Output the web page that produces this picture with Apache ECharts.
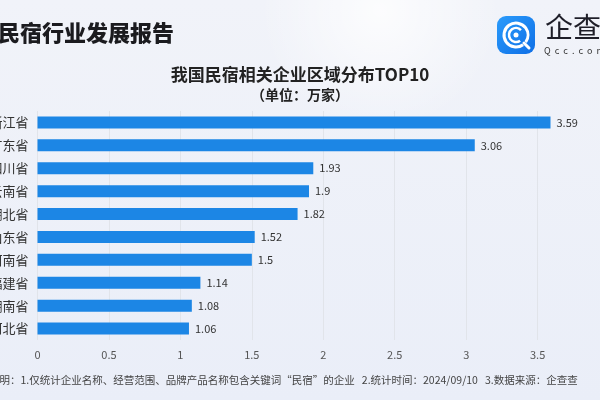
<!DOCTYPE html>
<html>
<head>
<meta charset="utf-8">
<script src="https://cdn.jsdelivr.net/npm/echarts@6/dist/echarts.min.js"></script>
<style>
html,body{margin:0;padding:0;background:#eef1f8;}
#main{width:600px;height:400px;}
</style>
</head>
<body>
<div id="main"></div>
<script>
const categories = ['浙江省','广东省','四川省','云南省','湖北省','山东省','河南省','福建省','湖南省','河北省'];
const values = [3.59, 3.06, 1.93, 1.9, 1.82, 1.52, 1.5, 1.14, 1.08, 1.06];
const headerText = '民宿行业发展报告';
const titleText = '我国民宿相关企业区域分布TOP10';
const unitText = '（单位：万家）';
const noteText = '说明：1.仅统计企业名称、经营范围、品牌产品名称包含关键词“民宿”的企业   2.统计时间：2024/09/10   3.数据来源：企查查';

const FONT = '"Noto Sans CJK SC", "Noto Sans", sans-serif';
const chart = echarts.init(document.getElementById('main'), null, {renderer: 'canvas'});

chart.setOption({
  animation: false,
  backgroundColor: {
    type: 'linear', x: 0, y: 0, x2: 0, y2: 1,
    colorStops: [{offset: 0, color: '#f1f3f9'}, {offset: 1, color: '#eaeef8'}]
  },
  textStyle: {fontFamily: FONT},
  grid: {left: 37.5, right: 49.5, top: 111, bottom: 60, containLabel: false, outerBoundsMode: 'none'},
  xAxis: {
    type: 'value',
    min: 0,
    max: 'dataMax',
    interval: 0.5,
    axisLine: {show: false},
    axisTick: {show: false},
    axisLabel: {color: '#555', fontSize: 11, margin: 9, showMaxLabel: false, fontFamily: FONT},
    splitLine: {show: true, showMaxLine: false, lineStyle: {color: '#e1e4ea', width: 1}}
  },
  yAxis: {
    type: 'category',
    data: categories,
    inverse: true,
    axisLine: {show: false},
    axisTick: {show: false},
    axisLabel: {color: '#333', fontSize: 13, margin: 9, fontFamily: FONT}
  },
  series: [{
    type: 'bar',
    data: values,
    barWidth: 12,
    itemStyle: {color: '#1c86e5'},
    label: {show: true, position: 'right', distance: 6, color: '#333', fontSize: 11, fontFamily: FONT}
  }],
  graphic: [
    {type: 'circle', silent: true, z: -10, shape: {cx: 380, cy: 10, r: 120},
     style: {fill: {type: 'radial', x: 0.5, y: 0.5, r: 0.5, colorStops: [{offset: 0, color: 'rgba(255,255,255,0.8)'}, {offset: 1, color: 'rgba(255,255,255,0)'}]}}},
    {type: 'text', left: -2, top: 22, style: {text: headerText, font: '900 22px ' + FONT, fill: '#1b1b1f'}},
    {type: 'text', left: 'center', top: 66, style: {text: titleText, font: 'bold 17px ' + FONT, fill: '#222'}},
    {type: 'text', left: 'center', top: 88, style: {text: unitText, font: 'bold 14px ' + FONT, fill: '#222'}},
    {type: 'text', left: -11, top: 375, style: {text: noteText, font: '10.5px ' + FONT, fill: '#444'}},
    // logo
    {type: 'group', left: 497, top: 16, children: [
      {type: 'rect', shape: {x: 0, y: 0, width: 38, height: 38, r: 9},
       style: {fill: {type: 'linear', x: 0, y: 0, x2: 1, y2: 1, colorStops: [{offset: 0, color: '#2a9bfb'}, {offset: 1, color: '#0f6fe6'}]}}},
      {type: 'arc', shape: {cx: 19, cy: 19, r: 12, startAngle: Math.PI * 0.3, endAngle: Math.PI * 2.2}, style: {stroke: '#fff', lineWidth: 3, fill: null}},
      {type: 'arc', shape: {cx: 19, cy: 19, r: 7, startAngle: Math.PI * 0.3, endAngle: Math.PI * 1.75}, style: {stroke: '#fff', lineWidth: 2.5, fill: null}},
      {type: 'circle', shape: {cx: 19, cy: 19, r: 2.5}, style: {fill: '#fff'}},
      {type: 'line', shape: {x1: 27, y1: 27, x2: 32, y2: 32}, style: {stroke: '#fff', lineWidth: 3, lineCap: 'round'}}
    ]},
    {type: 'text', left: 545, top: 13, style: {text: '企查查', font: '28px ' + FONT, fill: '#1e1e28'}},
    {type: 'text', left: 544, top: 46, style: {text: 'Q  c  c  .  c  o  m', font: '9px ' + FONT, fill: '#333'}}
  ]
});
</script>
</body>
</html>
